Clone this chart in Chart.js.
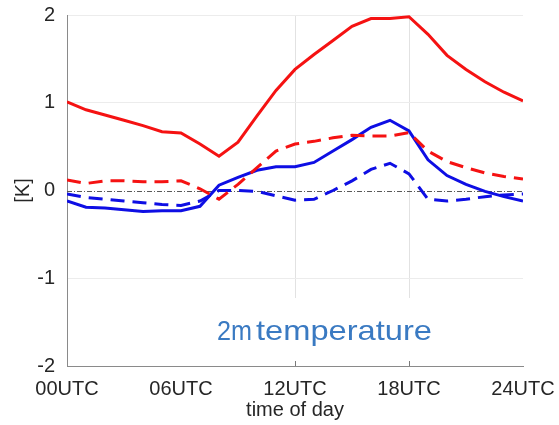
<!DOCTYPE html>
<html>
<head>
<meta charset="utf-8">
<script src="https://cdn.jsdelivr.net/npm/chart.js@4/dist/chart.umd.min.js"></script>
<style>
  html, body { margin: 0; padding: 0; background: #fff; }
  #wrap { width: 559px; height: 425px; position: relative; }
</style>
</head>
<body>
<div id="wrap"><canvas id="c" width="559" height="425"></canvas></div>
<script>
// ---- data ----
const hours = [0,1,2,3,4,5,6,7,8,9,10,11,12,13,14,15,16,17,18,19,20,21,22,23,24];
const xTickLabels = ['00UTC','06UTC','12UTC','18UTC','24UTC'];
const redSolid  = [1.01,0.92,0.86,0.80,0.74,0.67,0.655,0.53,0.39,0.55,0.85,1.14,1.38,1.55,1.71,1.87,1.96,1.96,1.98,1.78,1.54,1.38,1.24,1.12,1.02];
const redDashed = [0.12,0.08,0.11,0.11,0.10,0.10,0.11,0.02,-0.10,0.07,0.26,0.45,0.53,0.56,0.60,0.63,0.62,0.62,0.66,0.45,0.33,0.26,0.20,0.16,0.13];
const blueSolid = [-0.12,-0.19,-0.20,-0.22,-0.24,-0.23,-0.23,-0.18,0.06,0.15,0.23,0.27,0.27,0.32,0.45,0.58,0.72,0.80,0.68,0.35,0.17,0.07,-0.01,-0.07,-0.12];
const blueDashed= [-0.04,-0.08,-0.10,-0.12,-0.14,-0.16,-0.17,-0.12,0.00,0.00,-0.01,-0.06,-0.11,-0.10,0.00,0.11,0.24,0.31,0.19,-0.10,-0.12,-0.10,-0.07,-0.05,-0.04];
const annotationSmall = '2m';
const annotationLarge = 'temperature';

const toXY = arr => hours.map((h, i) => ({x: h, y: arr[i]}));
const RED = 'rgb(245,18,18)';
const BLUE = 'rgb(14,14,228)';
const FONT = "'Liberation Sans', Arial, Helvetica, sans-serif";

const overlay = {
  id: 'overlay',
  beforeDatasetsDraw(chart) {
    const {ctx, chartArea, scales} = chart;
    const y0 = scales.y.getPixelForValue(0);
    ctx.save();
    ctx.fillStyle = '#ffffff';
    ctx.fillRect(205, 298, 240, chartArea.bottom - 300);
    ctx.strokeStyle = '#5a5a5a';
    ctx.lineWidth = 1;
    ctx.setLineDash([5, 2, 1, 2]);
    ctx.beginPath();
    ctx.moveTo(chartArea.left, Math.round(y0) + 0.5);
    ctx.lineTo(chartArea.right, Math.round(y0) + 0.5);
    ctx.stroke();
    ctx.setLineDash([]);
    ctx.strokeStyle = '#7a7a7a';
    [12, 18].forEach(v => {
      const px = Math.round(scales.x.getPixelForValue(v)) + 0.5;
      ctx.beginPath();
      ctx.moveTo(px, chartArea.bottom);
      ctx.lineTo(px, chartArea.bottom - 5);
      ctx.stroke();
    });
    ctx.restore();
  },
  afterDraw(chart) {
    const ctx = chart.ctx;
    ctx.save();
    ctx.fillStyle = 'rgb(58,122,194)';
    ctx.textBaseline = 'alphabetic';
    const base = 339.5;
    function fitText(txt, size, x, w) {
      ctx.font = size + 'px ' + FONT;
      const m = ctx.measureText(txt).width;
      ctx.save();
      ctx.translate(x, base);
      ctx.scale(w / m, 1);
      ctx.fillText(txt, 0, 0);
      ctx.restore();
    }
    fitText(annotationSmall, 28, 217, 35);
    fitText(annotationLarge, 28, 256, 176);
    ctx.restore();
  }
};

new Chart(document.getElementById('c'), {
  type: 'line',
  data: {
    datasets: [
      {label: 'red solid', data: toXY(redSolid), borderColor: RED, borderWidth: 3, pointRadius: 0, tension: 0},
      {label: 'red dashed', data: toXY(redDashed), borderColor: RED, borderWidth: 3, borderDash: [14, 8], pointRadius: 0, tension: 0},
      {label: 'blue solid', data: toXY(blueSolid), borderColor: BLUE, borderWidth: 3, pointRadius: 0, tension: 0},
      {label: 'blue dashed', data: toXY(blueDashed), borderColor: BLUE, borderWidth: 3, borderDash: [14, 8], pointRadius: 0, tension: 0}
    ]
  },
  options: {
    responsive: false,
    animation: false,
    layout: {padding: {left: 11, right: 36, top: 15, bottom: 3}},
    plugins: {legend: {display: false}, tooltip: {enabled: false}},
    scales: {
      x: {
        type: 'linear', min: 0, max: 24,
        afterFit(s) { s.height = 56; },
        ticks: {
          stepSize: 6, padding: 0, color: '#262626', maxRotation: 0,
          font: {family: FONT, size: 20},
          callback: v => xTickLabels[v / 6]
        },
        grid: {
          drawTicks: true, tickLength: 11, tickColor: 'rgba(0,0,0,0)',
          color: c => (c.tick && (c.tick.value === 12 || c.tick.value === 18)) ? '#e2e2e2' : 'rgba(0,0,0,0)'
        },
        border: {display: true, color: '#8a8a8a', width: 1},
        title: {display: true, text: 'time of day', color: '#262626', font: {family: FONT, size: 20}, padding: 0}
      },
      y: {
        min: -2, max: 2,
        afterFit(s) { s.width = 67 - 11; },
        ticks: {stepSize: 1, padding: 0, color: '#262626', font: {family: FONT, size: 20}},
        grid: {
          drawTicks: true, tickLength: 12, tickColor: 'rgba(0,0,0,0)',
          color: c => (c.tick && (c.tick.value === 0 || c.tick.value === -2)) ? 'rgba(0,0,0,0)' : '#ececec'
        },
        border: {display: true, color: '#8a8a8a', width: 1},
        title: {display: true, text: '[K]', color: '#262626', font: {family: FONT, size: 20}, padding: 0}
      }
    }
  },
  plugins: [overlay]
});
</script>
</body>
</html>
